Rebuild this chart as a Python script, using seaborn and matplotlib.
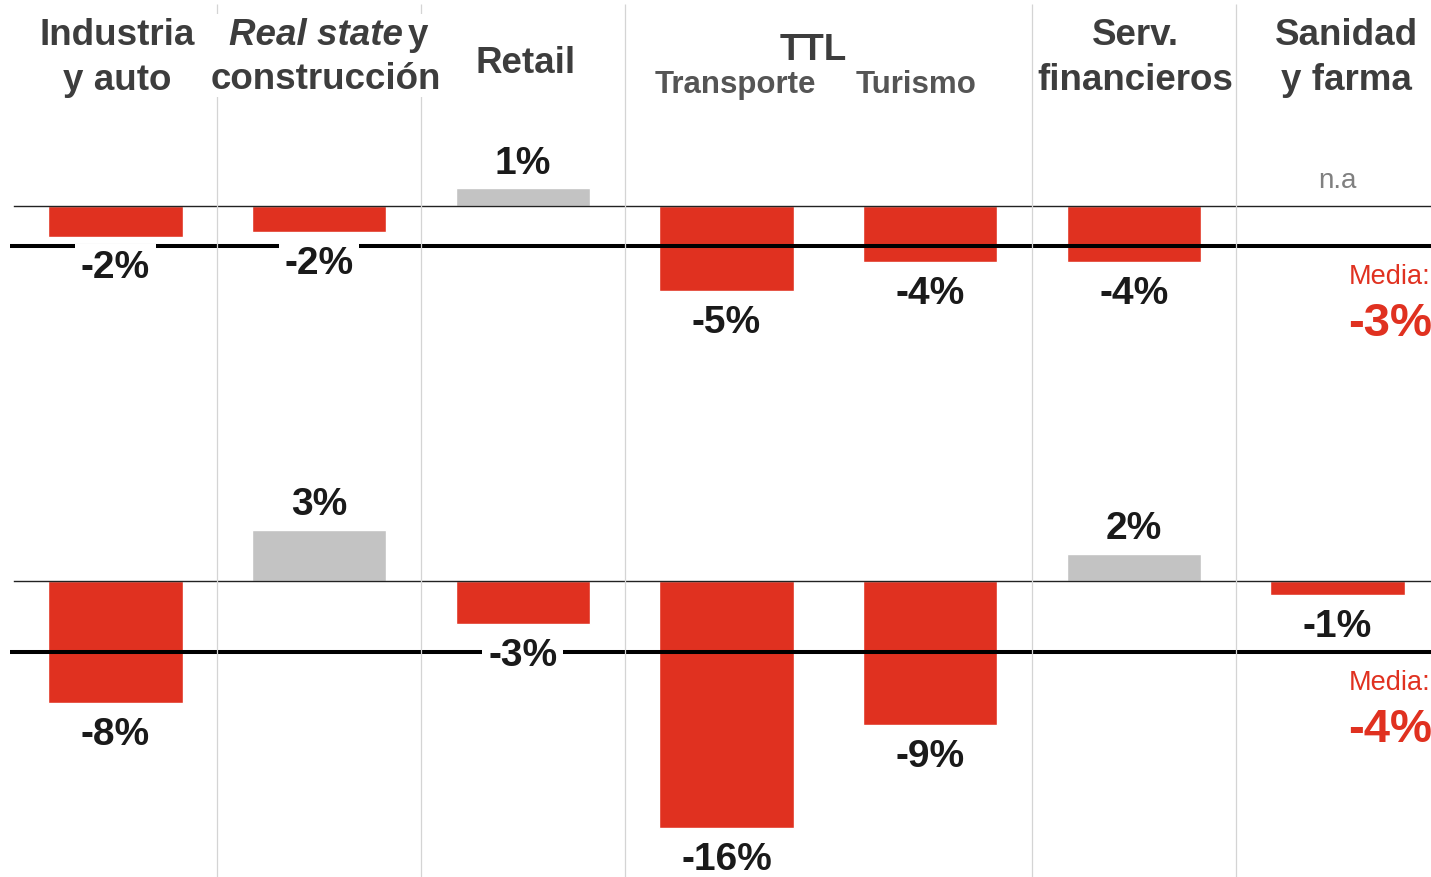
import matplotlib.pyplot as plt
from matplotlib.patches import Rectangle
import numpy as np
import pandas as pd
import seaborn as sns

# Data (percent change per sector)
sectors = ['Industria y auto', 'Real state y construcción', 'Retail',
           'Transporte', 'Turismo', 'Serv. financieros', 'Sanidad y farma']

top_values = [-1.95, -1.64, 1.07, -5.39, -3.57, -3.57, np.nan]
top_labels = ['-2%', '-2%', '1%', '-5%', '-4%', '-4%', 'n.a']
top_mean = -2.52
top_mean_label = '-3%'

bottom_values = [-7.71, 3.19, -2.72, -15.57, -9.06, 1.70, -0.88]
bottom_labels = ['-8%', '3%', '-3%', '-16%', '-9%', '2%', '-1%']
bottom_mean = -4.47
bottom_mean_label = '-4%'

# Style
sns.set_style('white')
plt.rcParams['font.family'] = ['Liberation Sans', 'DejaVu Sans']

RED = '#e03120'
GREY = '#c3c3c3'
HEAD = '#3d3d3d'
TXT = '#1a1a1a'

W, H = 1431, 878
X0 = 13.5          # pixel where the first column starts
COL = 203.7        # pixels per column
PX = 15.9          # pixels per percentage point
X_LEFT = -0.5
X_RIGHT = -0.5 + (W - X0) / COL

fig = plt.figure(figsize=(W / 100, H / 100), dpi=100)


def draw_row(values, labels, mean, mean_label, base_px, top_px, bot_px):
    ax = fig.add_axes([X0 / W, 1 - bot_px / H, (W - X0) / W, (bot_px - top_px) / H])
    df = pd.DataFrame({'sector': sectors, 'value': values}).dropna()
    colors = {s: (RED if v < 0 else GREY) for s, v in zip(sectors, values)}
    sns.barplot(data=df, x='sector', y='value', hue='sector', order=sectors,
                hue_order=sectors, palette=colors, saturation=1, width=0.66,
                legend=False, ax=ax)
    ax.set_xlim(X_LEFT, X_RIGHT)
    ax.set_ylim(-(bot_px - base_px) / PX, (base_px - top_px) / PX)
    ax.set_xlabel('')
    ax.set_ylabel('')
    ax.set_yticks([])
    ax.set_xticks(np.arange(-0.5, len(sectors) - 1, 1), labels=[])
    ax.tick_params(axis='x', direction='out', length=7, width=1.1, color='#222222')
    for side in ['top', 'right', 'left']:
        ax.spines[side].set_visible(False)
    ax.spines['bottom'].set_position(('data', 0))
    ax.spines['bottom'].set_color('#222222')
    ax.spines['bottom'].set_linewidth(1.0)
    ax.patch.set_alpha(0)

    # average line
    ax.hlines(mean, X_LEFT - 0.015, X_RIGHT, color='black', lw=2.9,
              zorder=3, clip_on=False)

    # value labels
    for i, (v, lab) in enumerate(zip(values, labels)):
        if np.isnan(v):
            ax.annotate(lab, (i, 0), xytext=(0, 13), textcoords='offset points',
                        ha='center', va='baseline', fontsize=20, color='#808080')
            continue
        dy = -29.5 if v < 0 else 11.5
        ax.annotate(lab, (i, v), xytext=(0, dy), textcoords='offset points',
                    ha='center', va='baseline', fontsize=28, fontweight='bold',
                    color=TXT, zorder=5,
                    bbox=dict(boxstyle='square,pad=0.15', fc='white', ec='none'))

    ax.annotate('Media:', (X_RIGHT, mean), xytext=(0, -27), textcoords='offset points',
                ha='right', va='baseline', fontsize=19.5, color=RED,
                annotation_clip=False)
    ax.annotate(mean_label, (X_RIGHT, mean), xytext=(1, -64.5), textcoords='offset points',
                ha='right', va='baseline', fontsize=34, fontweight='bold', color=RED,
                annotation_clip=False)
    return ax


draw_row(top_values, top_labels, top_mean, top_mean_label, 206.5, 100, 440)
draw_row(bottom_values, bottom_labels, bottom_mean, bottom_mean_label, 581.7, 460, 878)

# Overlay in pixel space for separators and headers
ov = fig.add_axes([X0 / W, 0, (W - X0) / W, 1])
ov.set_xlim(X_LEFT, X_RIGHT)
ov.set_ylim(H, 0)
ov.axis('off')
ov.patch.set_alpha(0)

ov.vlines([0.5, 1.5, 2.5, 4.5, 5.5], 5, H, color='#d4d4d4', lw=0.9, zorder=1)
ov.add_patch(Rectangle((0.465, 15), 1.139, 83, fc='white', ec='none', zorder=2))

head = dict(ha='center', va='baseline', fontsize=26.5, fontweight='bold',
            color=HEAD, zorder=3)
sub = {**head, 'fontsize': 22.5, 'color': '#555555'}
ov.text(0.008, 45, 'Industria', **head)
ov.text(0.008, 90, 'y auto', **head)
ov.text(1.412, 45, 'Real state', **{**head, 'ha': 'right'}, style='italic')
ov.text(1.437, 45, 'y', **{**head, 'ha': 'left'})
ov.text(1.034, 89, 'construcción', **head)
ov.text(2.016, 73, 'Retail', **head)
ov.text(3.425, 60, 'TTL', **head)
ov.text(3.042, 93, 'Transporte', **sub)
ov.text(3.93, 93, 'Turismo', **sub)
ov.text(5.006, 45, 'Serv.', **head)
ov.text(5.006, 90, 'financieros', **head)
ov.text(6.042, 45, 'Sanidad', **head)
ov.text(6.042, 90, 'y farma', **head)

fig.savefig('out.png', dpi=100)
